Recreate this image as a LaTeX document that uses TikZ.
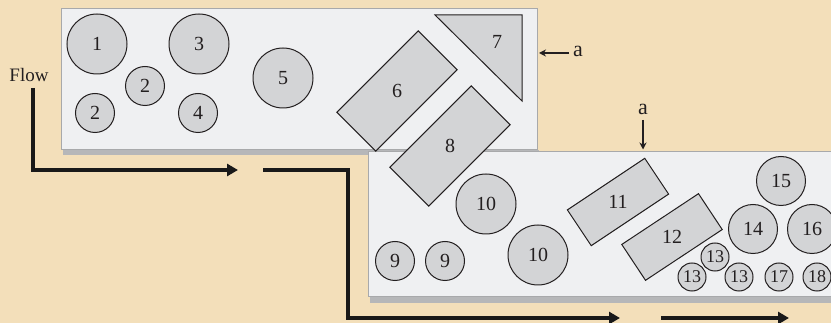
\documentclass[tikz,border=0pt]{standalone}
\usepackage{fontspec}
\setmainfont{Liberation Serif}
\usetikzlibrary{arrows.meta}
\definecolor{sand}{RGB}{243,223,186}
\definecolor{panel}{RGB}{239,240,242}
\definecolor{paneledge}{RGB}{168,169,171}
\definecolor{shadowc}{RGB}{182,183,185}
\definecolor{shapec}{RGB}{211,212,214}
\definecolor{ink}{RGB}{35,31,32}
\begin{document}
\begin{tikzpicture}[x=1pt,y=-1pt,
  shp/.style={draw=ink,fill=shapec,line width=1pt,inner sep=0pt,text=ink,font=\fontsize{20}{22}\selectfont},
  circ/.style={shp,circle,minimum size=#1},
  box/.style={shp,rectangle,minimum width=#1},
  lab/.style={text=ink,font=\fontsize{20}{22}\selectfont,inner sep=0pt},
  panelbox/.style={draw=paneledge,fill=panel,line width=1pt},
  flowline/.style={line width=4.5pt,draw=black!90,-{Triangle[length=11pt,width=12pt]}},
  tagarrow/.style={line width=2pt,draw=ink,-{Stealth[length=7pt,width=7pt]}}
]
\useasboundingbox (0,0) rectangle (831,323);
\fill[sand] (0,0) rectangle (831,323);

% panels
\fill[shadowc] (63,150) rectangle (539,155);
\draw[panelbox] (61,9) rectangle (537,150);
\fill[shadowc] (370,297) rectangle (840,303);
\draw[panelbox] (368,152) rectangle (840,297);

% panel 1 shapes
\node[circ=60] (c1) at (97,44) {1};
\node[circ=60] (c3) at (199,44) {3};
\node[circ=39] (c2a) at (145,86) {2};
\node[circ=39] (c2b) at (95,113) {2};
\node[circ=39] (c4) at (198,113) {4};
\node[circ=60] (c5) at (283,78) {5};
\node[box=115,minimum height=55,rotate=45] (r6) at (397,91) {};
\node[lab] (l6) at (r6.center) {6};
\coordinate (t7a) at (435,15);
\coordinate (t7b) at (522,15);
\coordinate (t7c) at (522,101);
\draw[shp] (t7a) -- (t7b) -- (t7c) -- cycle;
\node[lab] (l7) at (497,42) {7};
\node[box=115,minimum height=55,rotate=45] (r8) at (450,146) {};
\node[lab] (l8) at (r8.center) {8};

% panel 2 shapes
\node[circ=60] (c10a) at (486,204) {10};
\node[circ=60] (c10b) at (538,255) {10};
\node[circ=39] (c9a) at (395,261) {9};
\node[circ=39] (c9b) at (445,261) {9};
\node[box=93,minimum height=43,rotate=33.7] (r11) at (618,202) {};
\node[lab] (l11) at (r11.center) {11};
\node[box=92,minimum height=43,rotate=33.5] (r12) at (672,237) {};
\node[lab] (l12) at (r12.center) {12};
\node[circ=49] (c15) at (781,181) {15};
\node[circ=49] (c14) at (753,229) {14};
\node[circ=49] (c16) at (812,229) {16};
\node[circ=28,font=\fontsize{18}{20}\selectfont] (c13a) at (715,257) {13};
\node[circ=28,font=\fontsize{18}{20}\selectfont] (c13b) at (692,277) {13};
\node[circ=28,font=\fontsize{18}{20}\selectfont] (c13c) at (739,277) {13};
\node[circ=28,font=\fontsize{18}{20}\selectfont] (c17) at (779,277) {17};
\node[circ=28,font=\fontsize{18}{20}\selectfont] (c18) at (817,277) {18};

% labels a
\node[lab,font=\fontsize{22}{24}\selectfont] (aR) at (578,51) {a};
\coordinate (aRstart) at (569,53);
\coordinate (aRend) at (539,53);
\draw[tagarrow] (aRstart) -- (aRend);
\node[lab,font=\fontsize{22}{24}\selectfont] (aT) at (643,109) {a};
\coordinate (aTstart) at (643,120);
\coordinate (aTend) at (643,149.5);
\draw[tagarrow] (aTstart) -- (aTend);

% flow
\node[lab,font=\fontsize{19}{21}\selectfont] (flow) at (29,75) {Flow};
\coordinate (f1a) at (33,88);
\coordinate (f1b) at (33,170);
\coordinate (f1c) at (238,170);
\draw[flowline] (f1a) -- (f1b) -- (f1c);
\coordinate (f2a) at (263,170);
\coordinate (f2b) at (348,170);
\coordinate (f2c) at (348,318);
\coordinate (f2d) at (620,318);
\draw[flowline,line join=miter] (f2a) -- (f2b) -- (f2c) -- (f2d);
\coordinate (f3a) at (661,318);
\coordinate (f3b) at (789,318);
\draw[flowline] (f3a) -- (f3b);
\end{tikzpicture}
\end{document}
